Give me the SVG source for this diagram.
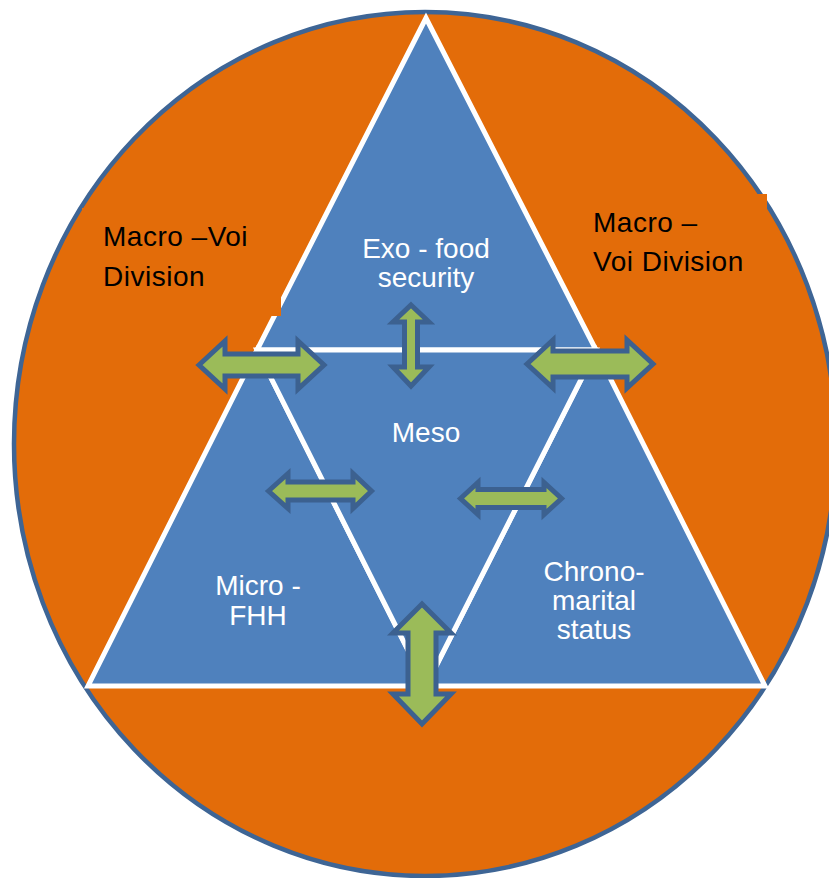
<svg xmlns="http://www.w3.org/2000/svg" width="829" height="878" viewBox="0 0 829 878">
<style>
.tri{fill:#4F81BD;stroke:#FFFFFF;stroke-width:5;stroke-linejoin:miter}
.box{fill:#E36C09;stroke:none}
.wt{font-family:"Liberation Sans",Arial,sans-serif;font-size:28px;fill:#FFFFFF;text-anchor:middle}
.bt{font-family:"Liberation Sans",Arial,sans-serif;font-size:28px;fill:#000000;letter-spacing:0.5px}
.arr{fill:#9BBB59;stroke:#3C6190;stroke-width:5;stroke-linejoin:miter}
</style>
<rect width="829" height="878" fill="#FFFFFF"/>
<g id="macro">
<ellipse cx="425" cy="444" rx="411" ry="432" fill="#E36C09" stroke="#3E6595" stroke-width="4.5"/>
</g>
<g id="exo">
<polygon class="tri" points="426,18 257,350 596,350"/>
<text class="wt" x="426" y="258">Exo - food</text>
<text class="wt" x="426" y="287">security</text>
</g>
<g id="micro">
<polygon class="tri" points="257,350 88,686 426,686"/>
<text class="wt" x="258" y="595">Micro -</text>
<text class="wt" x="258" y="625">FHH</text>
</g>
<g id="chrono">
<polygon class="tri" points="596,350 426,686 765,686"/>
<text class="wt" x="594" y="581">Chrono-</text>
<text class="wt" x="594" y="610">marital</text>
<text class="wt" x="594" y="639">status</text>
</g>
<g id="meso">
<polygon class="tri" points="257,350 596,350 426,686"/>
<text class="wt" x="426" y="442">Meso</text>
</g>
<g id="macro-left">
<rect class="box" x="82" y="208" width="199" height="108"/>
<text class="bt" x="103" y="246">Macro –Voi</text>
<text class="bt" x="103" y="286">Division</text>
</g>
<g id="macro-right">
<rect class="box" x="585" y="194" width="182" height="100"/>
<text class="bt" x="593" y="232">Macro –</text>
<text class="bt" x="593" y="271">Voi Division</text>
</g>
<g id="connectors">
<path class="arr" d="M199,365 L225,341 L225,354 L298,354 L298,341 L324,365 L298,389 L298,376 L225,376 L225,389 Z"/>
<path class="arr" d="M527,364 L553,340 L553,351 L627,351 L627,340 L653,364 L627,388 L627,377 L553,377 L553,388 Z"/>
<path class="arr" d="M411,305 L429,322 L417.5,322 L417.5,367 L429,367 L411,386 L393,367 L404.5,367 L404.5,322 L393,322 Z"/>
<path class="arr" d="M268.5,491 L288,473.5 L288,482 L353,482 L353,473.5 L371.5,491 L353,508.5 L353,500 L288,500 L288,508.5 Z"/>
<path class="arr" d="M460.5,498.5 L478,482.5 L478,489.5 L544,489.5 L544,482.5 L561.5,498.5 L544,514.5 L544,507.5 L478,507.5 L478,514.5 Z"/>
<path class="arr" d="M422,604 L451,633 L436,633 L436,694 L451,694 L422,724 L393,694 L408,694 L408,633 L393,633 Z"/>
</g>
</svg>
